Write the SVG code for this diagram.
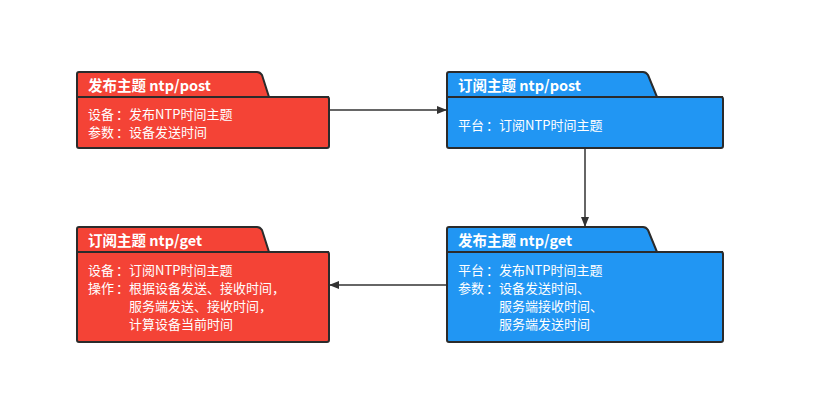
<svg xmlns="http://www.w3.org/2000/svg" width="818" height="420" viewBox="0 0 818 420">
<style>
.box{stroke:#2b2b2b;stroke-width:2;stroke-linejoin:round}
.red{fill:#f44336}
.blue{fill:#2196f3}
.t{font-family:"Noto Sans CJK SC","Liberation Sans",sans-serif;fill:#fff;font-size:13px}
.h{font-weight:bold;font-size:14.5px}
.c{stroke:#333;stroke-width:1.5;fill:none;marker-end:url(#a)}
</style>
<defs>
<marker id="a" markerWidth="10" markerHeight="8" refX="9" refY="4" orient="auto" markerUnits="userSpaceOnUse">
<path d="M0,0 L10,4 L0,8 Z" fill="#333"/>
</marker>
</defs>
<rect width="818" height="420" fill="#fff"/>
<g id="connectors">
<path class="c" d="M329,110 L446,110"/>
<path class="c" d="M585,148 L585,226"/>
<path class="c" d="M447,285 L330,285"/>
</g>
<g id="n1">
<path class="box red" d="M79,72 H257 Q260,72 262,75 L269,97 H327 Q329,97 329,99 V146 Q329,148 327,148 H79 Q77,148 77,146 V74 Q77,72 79,72 Z"/>
<line x1="77" y1="97" x2="329" y2="97" stroke="#2b2b2b" stroke-width="2"/>
<text class="t h" x="88" y="91">发布主题 ntp/post</text>
<text class="t" x="88" y="119">设备<tspan dx="2">：</tspan>发布NTP时间主题</text>
<text class="t" x="88" y="137">参数<tspan dx="2">：</tspan>设备发送时间</text>
</g>
<g id="n2">
<path class="box blue" d="M449,72 H643 Q646,72 648,75 L657,97 H721 Q723,97 723,99 V146 Q723,148 721,148 H449 Q447,148 447,146 V74 Q447,72 449,72 Z"/>
<line x1="447" y1="97" x2="723" y2="97" stroke="#2b2b2b" stroke-width="2"/>
<text class="t h" x="458" y="91">订阅主题 ntp/post</text>
<text class="t" x="458" y="130">平台<tspan dx="2">：</tspan>订阅NTP时间主题</text>
</g>
<g id="n3">
<path class="box red" d="M79,227 H257 Q260,227 262,230 L269,252 H327 Q329,252 329,254 V340 Q329,342 327,342 H79 Q77,342 77,340 V229 Q77,227 79,227 Z"/>
<line x1="77" y1="252" x2="329" y2="252" stroke="#2b2b2b" stroke-width="2"/>
<text class="t h" x="88" y="246">订阅主题 ntp/get</text>
<text class="t" x="88" y="275">设备<tspan dx="2">：</tspan>订阅NTP时间主题</text>
<text class="t" x="88" y="293">操作<tspan dx="2">：</tspan>根据设备发送、接收时间，</text>
<text class="t" x="129" y="311">服务端发送、接收时间，</text>
<text class="t" x="129" y="329">计算设备当前时间</text>
</g>
<g id="n4">
<path class="box blue" d="M449,227 H643 Q646,227 648,230 L657,252 H721 Q723,252 723,254 V340 Q723,342 721,342 H449 Q447,342 447,340 V229 Q447,227 449,227 Z"/>
<line x1="447" y1="252" x2="723" y2="252" stroke="#2b2b2b" stroke-width="2"/>
<text class="t h" x="458" y="246">发布主题 ntp/get</text>
<text class="t" x="458" y="275">平台<tspan dx="2">：</tspan>发布NTP时间主题</text>
<text class="t" x="458" y="293">参数<tspan dx="2">：</tspan>设备发送时间、</text>
<text class="t" x="499" y="311">服务端接收时间、</text>
<text class="t" x="499" y="329">服务端发送时间</text>
</g>
</svg>
